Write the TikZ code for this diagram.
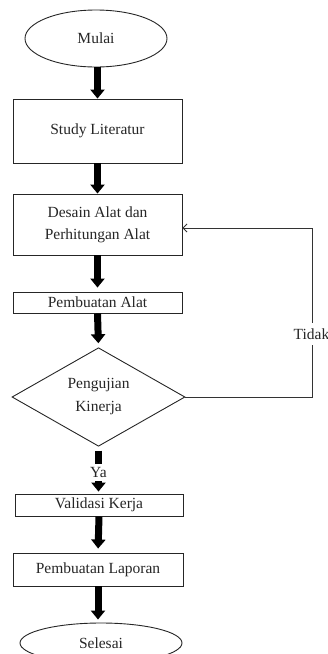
\documentclass[tikz,border=0pt]{standalone}
\usepackage{fontspec}
\setmainfont{Liberation Serif}
\usetikzlibrary{shapes.geometric,arrows.meta}
\begin{document}
\begin{tikzpicture}[x=1pt,y=-1pt,
  every node/.style={font=\fontsize{15.5}{22}\selectfont, text=black!85},
  box/.style={draw=black!85, line width=0.9pt, minimum width=169pt, inner sep=0pt, align=center},
  term/.style={draw=black!85, line width=0.9pt, ellipse, inner sep=0pt},
  decision/.style={draw=black!85, line width=0.9pt, diamond, inner sep=0pt, align=center},
  fat/.style={line width=7pt, black, -{Triangle[width=14pt,length=9pt]}},
  thinline/.style={draw=black!80, line width=0.9pt}]
\clip (0,0) rectangle (328,654);
\node[term, minimum width=142pt, minimum height=57pt] (mulai) at (96,38.5) {Mulai};
\node[box, minimum height=64pt] (study) at (97.5,131) {Study Literatur};
\node[box, minimum height=61pt] (desain) at (97.5,224.5) {Desain Alat dan\\Perhitungan Alat};
\node[box, minimum height=21pt] (buat) at (97.5,302.5) {Pembuatan Alat};
\node[decision, minimum width=173pt, minimum height=96pt] (uji) at (98.5,397) {Pengujian\\[1pt]Kinerja};
\node[box, minimum width=168pt, minimum height=22pt] (valid) at (99,505) {Validasi Kerja};
\node[box, minimum width=170pt, minimum height=33pt] (lapor) at (98,569.5) {Pembuatan Laporan};
\node[term, minimum width=162pt, minimum height=40pt] (selesai) at (101,643) {Selesai};

\draw[fat] (study.north |- mulai.south) -- (study.north);
\draw[fat] (study.south) -- (desain.north);
\draw[fat, shorten >=4pt] (desain.south) -- (buat.north);
\draw[fat, shorten >=4pt] (buat.south) -- (uji.north);
\draw[fat, shorten <=4pt, shorten >=2pt] (uji.south) -- (uji.south |- valid.north)
  node[pos=0.54, fill=white, inner sep=0pt, minimum height=17pt] (ya) {Ya};
\draw[fat, shorten >=4pt] (valid.south) -- (lapor.north);
\draw[fat, shorten >=3pt] (lapor.south) -- (lapor.south |- selesai.north);

\coordinate (c) at (312,228);
\draw[thinline, -{Straight Barb[length=4pt,width=8pt]}] (uji.east) -| (c) -- (desain.east |- c);
\node[fill=white, inner sep=0pt, minimum height=22pt] (tidak) at (311.5,334) {Tidak};
\end{tikzpicture}
\end{document}
